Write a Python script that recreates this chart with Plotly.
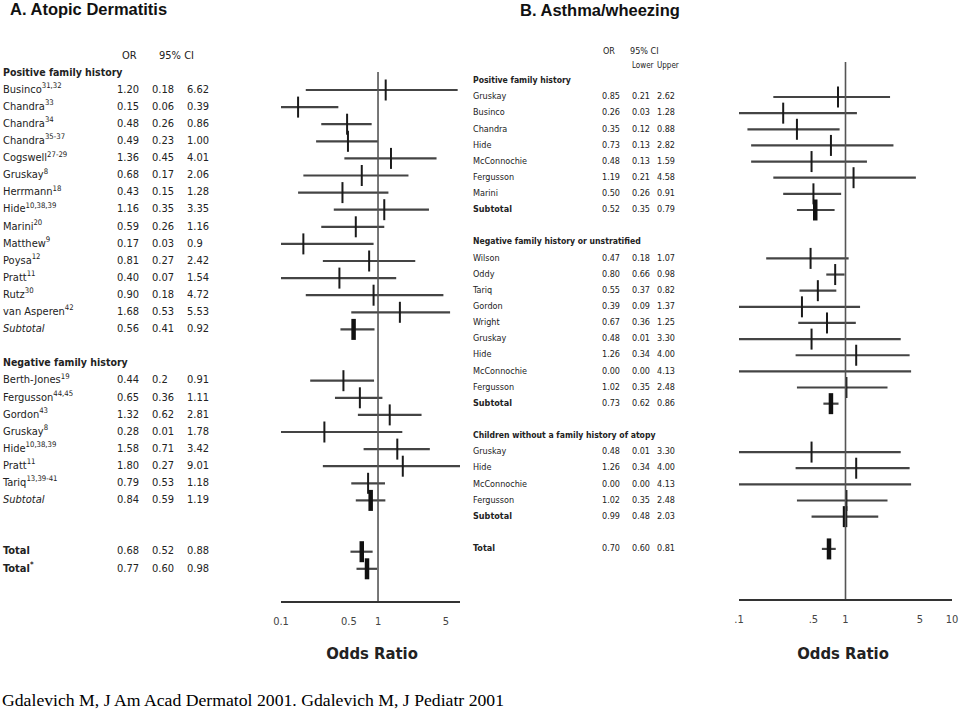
import plotly.graph_objects as go

# ---------------- Panel A: Atopic dermatitis ----------------
a_pos_studies = ["Businco<sup>31,32</sup>", "Chandra<sup>33</sup>", "Chandra<sup>34</sup>", "Chandra<sup>35-37</sup>",
                 "Cogswell<sup>27-29</sup>", "Gruskay<sup>8</sup>", "Herrmann<sup>18</sup>", "Hide<sup>10,38,39</sup>",
                 "Marini<sup>20</sup>", "Matthew<sup>9</sup>", "Poysa<sup>12</sup>", "Pratt<sup>11</sup>",
                 "Rutz<sup>30</sup>", "van Asperen<sup>42</sup>"]
a_pos_or = ["1.20", "0.15", "0.48", "0.49", "1.36", "0.68", "0.43", "1.16", "0.59", "0.17", "0.81", "0.40", "0.90", "1.68"]
a_pos_lower = ["0.18", "0.06", "0.26", "0.23", "0.45", "0.17", "0.15", "0.35", "0.26", "0.03", "0.27", "0.07", "0.18", "0.53"]
a_pos_upper = ["6.62", "0.39", "0.86", "1.00", "4.01", "2.06", "1.28", "3.35", "1.16", "0.9", "2.42", "1.54", "4.72", "5.53"]
a_pos_subtotal = ["0.56", "0.41", "0.92"]

a_neg_studies = ["Berth-Jones<sup>19</sup>", "Fergusson<sup>44,45</sup>", "Gordon<sup>43</sup>", "Gruskay<sup>8</sup>",
                 "Hide<sup>10,38,39</sup>", "Pratt<sup>11</sup>", "Tariq<sup>13,39-41</sup>"]
a_neg_or = ["0.44", "0.65", "1.32", "0.28", "1.58", "1.80", "0.79"]
a_neg_lower = ["0.2", "0.36", "0.62", "0.01", "0.71", "0.27", "0.53"]
a_neg_upper = ["0.91", "1.11", "2.81", "1.78", "3.42", "9.01", "1.18"]
a_neg_subtotal = ["0.84", "0.59", "1.19"]
a_total = ["0.68", "0.52", "0.88"]
a_total_star = ["0.77", "0.60", "0.98"]
a_tick_vals = [0.1, 0.5, 1, 5]
a_tick_text = ["0.1", "0.5", "1", "5"]

# ---------------- Panel B: Asthma / wheezing ----------------
b_pos_studies = ["Gruskay", "Businco", "Chandra", "Hide", "McConnochie", "Fergusson", "Marini"]
b_pos_or = ["0.85", "0.26", "0.35", "0.73", "0.48", "1.19", "0.50"]
b_pos_lower = ["0.21", "0.03", "0.12", "0.13", "0.13", "0.21", "0.26"]
b_pos_upper = ["2.62", "1.28", "0.88", "2.82", "1.59", "4.58", "0.91"]
b_pos_subtotal = ["0.52", "0.35", "0.79"]

b_neg_studies = ["Wilson", "Oddy", "Tariq", "Gordon", "Wright", "Gruskay", "Hide", "McConnochie", "Fergusson"]
b_neg_or = ["0.47", "0.80", "0.55", "0.39", "0.67", "0.48", "1.26", "0.00", "1.02"]
b_neg_lower = ["0.18", "0.66", "0.37", "0.09", "0.36", "0.01", "0.34", "0.00", "0.35"]
b_neg_upper = ["1.07", "0.98", "0.82", "1.37", "1.25", "3.30", "4.00", "4.13", "2.48"]
b_neg_subtotal = ["0.73", "0.62", "0.86"]

b_chi_studies = ["Gruskay", "Hide", "McConnochie", "Fergusson"]
b_chi_or = ["0.48", "1.26", "0.00", "1.02"]
b_chi_lower = ["0.01", "0.34", "0.00", "0.35"]
b_chi_upper = ["3.30", "4.00", "4.13", "2.48"]
b_chi_subtotal = ["0.99", "0.48", "2.03"]
b_total = ["0.70", "0.60", "0.81"]
b_tick_vals = [0.1, 0.5, 1, 5, 10]
b_tick_text = [".1", ".5", "1", "5", "10"]

# ---------------- layout constants ----------------
W, H = 960, 715
NARROW = "DejaVu Sans Condensed, Liberation Sans Narrow, Arial Narrow, sans-serif"
SANS = "Liberation Sans, Arial, sans-serif"
SERIF = "Liberation Serif, Times New Roman, serif"
TXT = "#222222"
LINE = "#444444"

A = dict(x0=281, x1=460, axis_y=601, row0=90, step=17.1, xrange=[-1, 0.845], ref_top=-1.05,
         cols=[3, 117, 152, 187], fs=11, hfs=10.5, xa="x", ya="y")
B = dict(x0=739, x1=952, axis_y=599, row0=97, step=16.14, xrange=[-1, 1], ref_top=-2.17,
         cols=[473, 602, 632, 657], fs=9, hfs=8.6, xa="x2", ya="y2")


# rows: (row index, label, values or None, kind)
rows_a = [(-1, "<b>Positive family history</b>", None, "head")]
for i, n in enumerate(a_pos_studies):
    rows_a.append((i, n, (a_pos_or[i], a_pos_lower[i], a_pos_upper[i]), "study"))
rows_a.append((14, "<i>Subtotal</i>", tuple(a_pos_subtotal), "sum"))
rows_a.append((16, "<b>Negative family history</b>", None, "head"))
for i, n in enumerate(a_neg_studies):
    rows_a.append((17 + i, n, (a_neg_or[i], a_neg_lower[i], a_neg_upper[i]), "study"))
rows_a.append((24, "<i>Subtotal</i>", tuple(a_neg_subtotal), "sum"))
rows_a.append((27, "<b>Total</b>", tuple(a_total), "sum"))
rows_a.append((28, "<b>Total<sup>*</sup></b>", tuple(a_total_star), "sum"))

rows_b = [(-1, "<b>Positive family history</b>", None, "head")]
for i, n in enumerate(b_pos_studies):
    rows_b.append((i, n, (b_pos_or[i], b_pos_lower[i], b_pos_upper[i]), "study"))
rows_b.append((7, "<b>Subtotal</b>", tuple(b_pos_subtotal), "sum"))
rows_b.append((9, "<b>Negative family history or unstratified</b>", None, "head"))
for i, n in enumerate(b_neg_studies):
    rows_b.append((10 + i, n, (b_neg_or[i], b_neg_lower[i], b_neg_upper[i]), "study"))
rows_b.append((19, "<b>Subtotal</b>", tuple(b_neg_subtotal), "sum"))
rows_b.append((21, "<b>Children without a family history of atopy</b>", None, "head"))
for i, n in enumerate(b_chi_studies):
    rows_b.append((22 + i, n, (b_chi_or[i], b_chi_lower[i], b_chi_upper[i]), "study"))
rows_b.append((26, "<b>Subtotal</b>", tuple(b_chi_subtotal), "sum"))
rows_b.append((28, "<b>Total</b>", tuple(b_total), "sum"))

fig = go.Figure()
shapes = []


def text_trace(xs, ys, texts, size, yaxis, family=NARROW, color=TXT, pos="middle right"):
    fig.add_trace(go.Scatter(x=xs, y=ys, text=texts, mode="text", textposition=pos,
                             textfont=dict(family=family, size=size, color=color), cliponaxis=False,
                             xaxis="x3", yaxis=yaxis, hoverinfo="skip", showlegend=False))


def add_panel(rows, P):
    xmin = 10 ** P["xrange"][0]
    cx, cy = [], []
    sx, sy, ex, ey = [], [], [], []
    lab_x, lab_y, lab_t, head_x, head_y, head_t = [], [], [], [], [], []
    for idx, label, vals, kind in rows:
        if kind == "head":
            head_x.append(P["cols"][0]); head_y.append(idx); head_t.append(label)
            continue
        lab_x.append(P["cols"][0]); lab_y.append(idx); lab_t.append(label)
        for c, v in zip(P["cols"][1:], vals):
            lab_x.append(c); lab_y.append(idx); lab_t.append(v)
        orv, lo, hi = (float(v) for v in vals)
        cx += [max(lo, xmin), hi, None]
        cy += [idx, idx, None]
        if orv > 0:
            if kind == "sum":
                sx.append(orv); sy.append(idx)
            else:
                ex.append(orv); ey.append(idx)
    text_trace(lab_x, lab_y, lab_t, P["fs"], P["ya"])
    text_trace(head_x, head_y, head_t, P["hfs"], P["ya"])
    fig.add_trace(go.Scatter(x=cx, y=cy, mode="lines", line=dict(color=LINE, width=2.2),
                             xaxis=P["xa"], yaxis=P["ya"], hoverinfo="skip", showlegend=False))
    fig.add_trace(go.Scatter(x=ex, y=ey, mode="markers",
                             marker=dict(symbol="line-ns", size=15, line=dict(color="#1a1a1a", width=2)),
                             xaxis=P["xa"], yaxis=P["ya"], hoverinfo="skip", showlegend=False))
    fig.add_trace(go.Scatter(x=sx, y=sy, mode="markers",
                             marker=dict(symbol="line-ns", size=15, line=dict(color="#111111", width=4.5)),
                             xaxis=P["xa"], yaxis=P["ya"], hoverinfo="skip", showlegend=False))
    bottom = (P["axis_y"] - P["row0"]) / P["step"]
    shapes.append(dict(type="line", xref=P["xa"], yref=P["ya"], x0=1, x1=1, y0=P["ref_top"], y1=bottom,
                       line=dict(color="#555555", width=1.6)))


add_panel(rows_a, A)
add_panel(rows_b, B)

# column headers
text_trace([122, 159], [-2, -2], ["OR", "95% CI"], 11, "y")
text_trace([603, 630], [-2.8, -2.8], ["OR", "95% CI"], 9, "y2")
text_trace([632, 657], [-1.9, -1.9], ["Lower", "Upper"], 8, "y2")
# titles (page-pixel overlay)
text_trace([10, 520], [11, 12], ["<b>A. Atopic Dermatitis</b>", "<b>B. Asthma/wheezing</b>"], 16.5, "y3",
           family=SANS, color="#111")
text_trace([372, 843], [655, 655], ["<b>Odds Ratio</b>", "<b>Odds Ratio</b>"], 16.5, "y3",
           color="#222", pos="middle center")
text_trace([2], [702], ["Gdalevich M, J Am Acad Dermatol 2001. Gdalevich M, J Pediatr 2001"], 17.7, "y3",
           family=SERIF, color="#000")


def xaxis_cfg(P, vals, text):
    return dict(domain=[P["x0"] / W, P["x1"] / W], type="log", range=P["xrange"], anchor=P["ya"],
                showline=True, linecolor="#333333", linewidth=2, ticks="outside", ticklen=9,
                tickcolor="rgba(0,0,0,0)", tickvals=vals, ticktext=text, automargin=False,
                tickfont=dict(family=NARROW, size=11, color="#444"), showgrid=False, zeroline=False,
                fixedrange=True)


def yaxis_cfg(P):
    return dict(domain=[1 - P["axis_y"] / H, 1],
                range=[(P["axis_y"] - P["row0"]) / P["step"], -P["row0"] / P["step"]],
                visible=False, anchor=P["xa"], fixedrange=True, automargin=False)


fig.update_layout(
    width=W, height=H, autosize=False,
    margin=dict(l=0, r=0, t=0, b=0, pad=0, autoexpand=False),
    paper_bgcolor="white", plot_bgcolor="rgba(0,0,0,0)",
    xaxis=xaxis_cfg(A, a_tick_vals, a_tick_text), yaxis=yaxis_cfg(A),
    xaxis2=xaxis_cfg(B, b_tick_vals, b_tick_text), yaxis2=yaxis_cfg(B),
    xaxis3=dict(domain=[0, 1], range=[0, W], visible=False, anchor="y3", fixedrange=True, automargin=False),
    yaxis3=dict(domain=[0, 1], range=[H, 0], visible=False, anchor="x3", fixedrange=True, automargin=False),
    shapes=shapes, showlegend=False,
)

fig.write_html("out.html", config={"displayModeBar": False, "responsive": False},
               post_script="document.body.style.margin='0';document.body.style.overflow='hidden';")
